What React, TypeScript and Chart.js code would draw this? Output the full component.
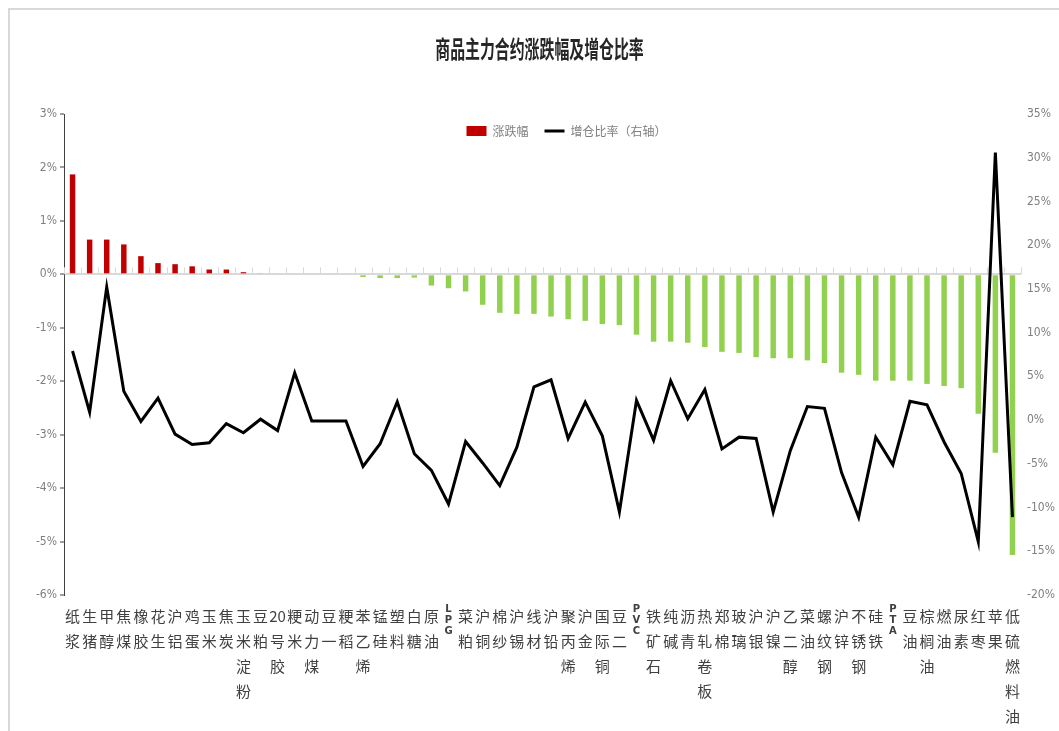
import React, { useEffect, useRef } from 'react';
import { Chart, registerables } from 'chart.js';

Chart.register(...registerables);

const titleText = '商品主力合约涨跌幅及增仓比率';
const seriesNames = ['涨跌幅', '增仓比率（右轴）'];

const categories = [
  '纸浆', '生猪', '甲醇', '焦煤', '橡胶', '花生', '沪铝', '鸡蛋', '玉米', '焦炭',
  '玉米淀粉', '豆粕', '20号胶', '粳米', '动力煤', '豆一', '粳稻', '苯乙烯', '锰硅', '塑料',
  '白糖', '原油', 'LPG', '菜粕', '沪铜', '棉纱', '沪锡', '线材', '沪铅', '聚丙烯',
  '沪金', '国际铜', '豆二', 'PVC', '铁矿石', '纯碱', '沥青', '热轧卷板', '郑棉', '玻璃',
  '沪银', '沪镍', '乙二醇', '菜油', '螺纹钢', '沪锌', '不锈钢', '硅铁', 'PTA', '豆油',
  '棕榈油', '燃油', '尿素', '红枣', '苹果', '低硫燃料油',
];

// 涨跌幅 (%), left axis
const changePct = [
  1.87, 0.65, 0.65, 0.56, 0.34, 0.21, 0.19, 0.15, 0.09, 0.09,
  0.04, 0.02, 0.0, 0.0, 0.0, 0.0, 0.0, -0.05, -0.07, -0.07,
  -0.06, -0.21, -0.26, -0.32, -0.57, -0.72, -0.74, -0.74, -0.79, -0.84,
  -0.87, -0.93, -0.95, -1.13, -1.26, -1.26, -1.28, -1.36, -1.45, -1.47,
  -1.55, -1.57, -1.57, -1.61, -1.66, -1.84, -1.88, -1.99, -1.99, -1.99,
  -2.05, -2.09, -2.13, -2.61, -3.34, -5.25,
];

// 增仓比率 (%), right axis
const oiRatioPct = [
  7.9, 0.9, 15.2, 3.3, -0.15, 2.5, -1.6, -2.8, -2.6, -0.4,
  -1.45, 0.1, -1.2, 5.4, -0.1, -0.1, -0.1, -5.3, -2.7, 2.1,
  -3.85, -5.75, -9.6, -2.45, -4.9, -7.5, -3.1, 3.8, 4.6, -2.1,
  2.05, -1.8, -10.5, 2.25, -2.3, 4.5, 0.15, 3.5, -3.3, -1.95,
  -2.1, -10.5, -3.5, 1.55, 1.35, -6.0, -11.1, -1.95, -5.1, 2.15,
  1.75, -2.5, -6.1, -13.9, 30.6, -11.1,
];

const leftMin = -6;
const leftMax = 3;
const leftStep = 1;
const rightMin = -20;
const rightMax = 35;
const rightStep = 5;

const RED = '#C00000';
const GREEN = '#92D050';
const numFont = "'Liberation Sans Narrow', 'DejaVu Sans Condensed', 'Noto Sans', sans-serif";
const cjkFont = "'Noto Sans CJK SC', 'Noto Sans', sans-serif";

const isLatin = (s: string) => /^[A-Za-z]+$/.test(s);
const splitLabel = (s: string): string[] =>
  isLatin(s) ? s.split('') : (s.match(/[0-9]+|./g) as string[]);

const LEGEND_TOP = 99;
const LEGEND_DX = 32;

const legendShift = {
  id: 'legendShift',
  afterLayout(chart: any) {
    const l = chart.legend;
    if (!l) return;
    const h = l.bottom - l.top;
    l.top = LEGEND_TOP;
    l.bottom = LEGEND_TOP + h;
    l.left += LEGEND_DX;
    l.right += LEGEND_DX;
  },
};

const zeroTicks = {
  id: 'zeroTicks',
  beforeDatasetsDraw(chart: any) {
    const xs = chart.scales.x;
    const ys = chart.scales.y;
    const y0 = ys.getPixelForValue(0);
    const ctx = chart.ctx;
    ctx.save();
    ctx.strokeStyle = '#d9d9d9';
    ctx.lineWidth = 1;
    for (let i = 0; i <= categories.length; i++) {
      const px = Math.round(xs.getPixelForValue(i - 0.5)) + 0.5;
      ctx.beginPath();
      ctx.moveTo(px, y0);
      ctx.lineTo(px, y0 - 7);
      ctx.stroke();
    }
    ctx.restore();
  },
};

export default function App() {
  const ref = useRef<HTMLCanvasElement | null>(null);

  useEffect(() => {
    if (!ref.current) return;
    const chart = new Chart(ref.current, {
      type: 'bar',
      data: {
        labels: categories.map(splitLabel),
        datasets: [
          {
            type: 'bar',
            label: seriesNames[0],
            data: changePct,
            yAxisID: 'y',
            backgroundColor: (c: any) => ((c.raw ?? 0) >= 0 ? RED : GREEN),
            borderWidth: 0,
            barPercentage: 0.32,
            categoryPercentage: 1,
            pointStyle: 'rect',
            order: 1,
          } as any,
          {
            type: 'line',
            label: seriesNames[1],
            data: oiRatioPct,
            yAxisID: 'y1',
            borderColor: '#000000',
            backgroundColor: '#000000',
            borderWidth: 3,
            pointRadius: 0,
            pointHoverRadius: 0,
            pointStyle: 'line',
            tension: 0,
            order: 0,
          } as any,
        ],
      },
      options: {
        responsive: false,
        animation: false,
        layout: { padding: { top: 66, left: 0, right: 0, bottom: 0 } },
        plugins: {
          title: { display: false },
          tooltip: { enabled: false },
          legend: {
            display: true,
            position: 'top',
            align: 'center',
            labels: {
              usePointStyle: true,
              pointStyleWidth: 20,
              boxHeight: 10,
              padding: 16,
              color: '#7f7f7f',
              font: { family: cjkFont, size: 12 },
              sort: (a: any, b: any) => a.datasetIndex - b.datasetIndex,
            },
          },
        },
        scales: {
          x: {
            type: 'category',
            offset: true,
            afterFit: (s: any) => {
              s.height = 136;
            },
            grid: { display: false },
            border: { display: false },
            ticks: {
              autoSkip: false,
              maxRotation: 0,
              minRotation: 0,
              padding: 1,
              color: '#404040',
              font: (c: any) =>
                isLatin(categories[c.index] || '')
                  ? { family: "'DejaVu Sans', sans-serif", size: 10, weight: 'bold', lineHeight: 1.1 }
                  : { family: cjkFont, size: 15, lineHeight: 25 / 15 },
            },
          },
          y: {
            type: 'linear',
            position: 'left',
            min: leftMin,
            max: leftMax,
            afterFit: (s: any) => {
              s.width = 54;
            },
            ticks: {
              stepSize: leftStep,
              padding: 3,
              color: '#7f7f7f',
              font: { family: numFont, size: 12 },
              callback: (v: any) => `${v}%`,
            },
            grid: {
              display: true,
              drawOnChartArea: true,
              color: (c: any) => (c.tick && c.tick.value === 0 ? '#d9d9d9' : 'rgba(0,0,0,0)'),
              lineWidth: 2,
              drawTicks: true,
              tickLength: 4,
              tickColor: '#404040',
              tickWidth: 1,
            },
            border: { display: true, color: '#404040', width: 1 },
          },
          y1: {
            type: 'linear',
            position: 'right',
            min: rightMin,
            max: rightMax,
            afterFit: (s: any) => {
              s.width = 38;
            },
            ticks: {
              stepSize: rightStep,
              padding: 6,
              color: '#7f7f7f',
              font: { family: numFont, size: 12 },
              callback: (v: any) => `${v}%`,
            },
            grid: { display: false, drawTicks: false },
            border: { display: false },
          },
        },
      } as any,
      plugins: [legendShift, zeroTicks],
    });
    return () => chart.destroy();
  }, []);

  return (
    <div
      style={{
        position: 'fixed',
        left: 8,
        top: 8,
        width: 1051,
        height: 723,
        boxSizing: 'border-box',
        borderTop: '2px solid #d9d9d9',
        borderLeft: '2px solid #d9d9d9',
        background: '#ffffff',
      }}
    >
      <div
        style={{
          position: 'absolute',
          left: 0,
          right: 0,
          top: 25,
          height: 26,
          lineHeight: '26px',
          textAlign: 'center',
          fontFamily: cjkFont,
          fontSize: 24,
          fontWeight: 'bold',
          color: '#262626',
          transform: 'translateX(5px) scaleX(0.62)',
          transformOrigin: 'center',
          whiteSpace: 'nowrap',
          pointerEvents: 'none',
        }}
      >
        {titleText}
      </div>
      <canvas ref={ref} width={1049} height={721} style={{ display: 'block' }} />
    </div>
  );
}
